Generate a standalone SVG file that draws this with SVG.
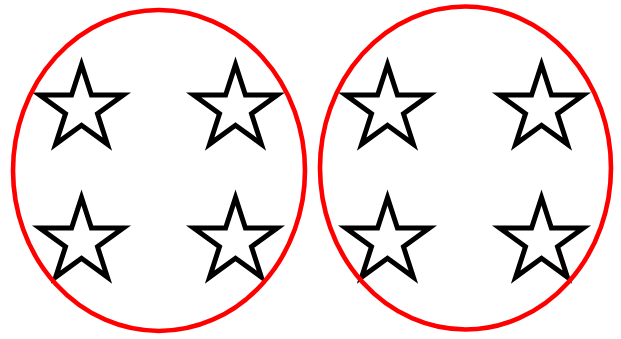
<svg xmlns="http://www.w3.org/2000/svg" xmlns:xlink="http://www.w3.org/1999/xlink" width="621" height="339" viewBox="0 0 621 339">
  <style>
    .star { fill: none; stroke: #000; stroke-width: 5; stroke-linejoin: miter; stroke-miterlimit: 10; }
    .ring { fill: none; stroke: #ff0000; stroke-width: 4.6; }
  </style>
  <defs>
    <path id="starShape" d="M0,-44 L9.88,-13.6 L41.85,-13.6 L15.99,5.19 L25.86,35.6 L0,16.81 L-25.86,35.6 L-15.99,5.19 L-41.85,-13.6 L-9.88,-13.6 Z"/>
  </defs>
  <rect width="621" height="339" fill="#fff"/>
  <g id="stars-left">
    <g id="star-1"><use xlink:href="#starShape" class="star" transform="translate(81.5,108.5)"/></g>
    <g id="star-2"><use xlink:href="#starShape" class="star" transform="translate(235.5,108.5)"/></g>
    <g id="star-3"><use xlink:href="#starShape" class="star" transform="translate(81.5,241.5)"/></g>
    <g id="star-4"><use xlink:href="#starShape" class="star" transform="translate(235.5,241.5)"/></g>
  </g>
  <g id="stars-right">
    <g id="star-5"><use xlink:href="#starShape" class="star" transform="translate(387.5,108.5)"/></g>
    <g id="star-6"><use xlink:href="#starShape" class="star" transform="translate(541.5,108.5)"/></g>
    <g id="star-7"><use xlink:href="#starShape" class="star" transform="translate(387.5,241.5)"/></g>
    <g id="star-8"><use xlink:href="#starShape" class="star" transform="translate(541.5,241.5)"/></g>
  </g>
  <g id="ellipse-left"><ellipse class="ring" cx="159" cy="170.5" rx="146" ry="160.5"/></g>
  <g id="ellipse-right"><ellipse class="ring" cx="465.5" cy="168" rx="145.5" ry="161.5"/></g>
</svg>
